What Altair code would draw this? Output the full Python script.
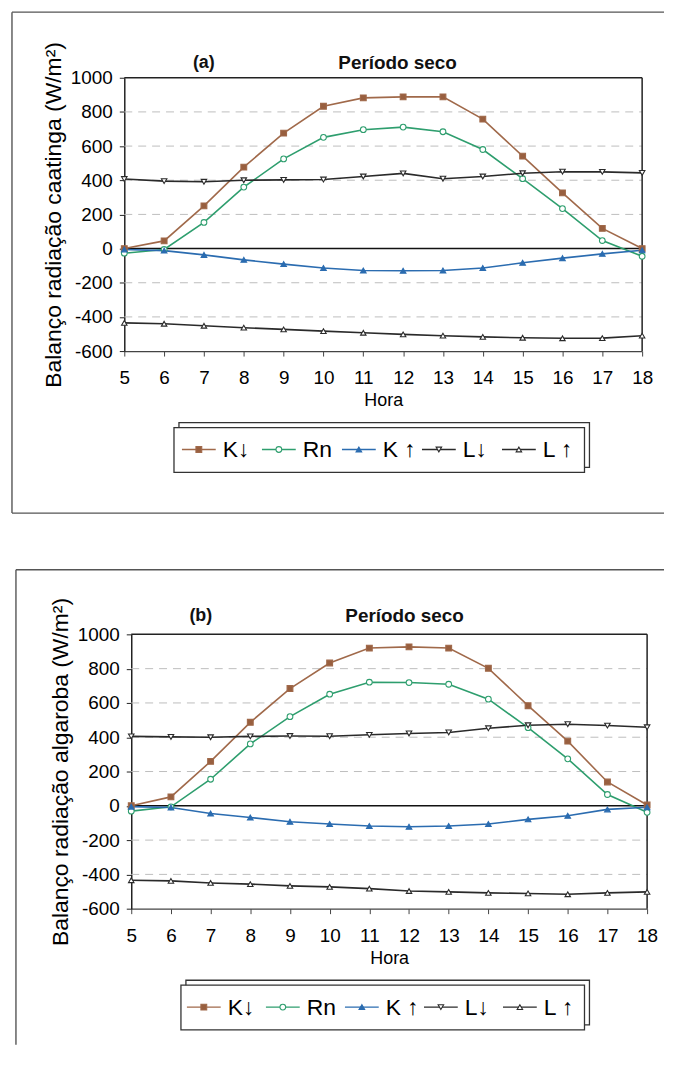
import altair as alt
import pandas as pd

# ---------------- data ----------------
hours = list(range(5, 19))
series = ["K↓", "Rn", "K ↑", "L↓", "L ↑"]

# (a) caatinga
a_kdown = [0, 45, 250, 477, 676, 833, 882, 888, 888, 758, 541, 326, 118, 0]
a_rn = [-27, -5, 153, 360, 525, 651, 696, 711, 684, 580, 409, 234, 47, -45]
a_kup = [-5, -12, -37, -66, -91, -114, -128, -130, -128, -114, -83, -56, -31, -10]
a_ldown = [407, 395, 391, 400, 402, 404, 422, 440, 409, 422, 441, 450, 449, 443]
a_lup = [-435, -440, -452, -463, -473, -483, -493, -502, -510, -517, -522, -525, -524, -510]

# (b) algaroba
b_kdown = [0, 52, 259, 487, 684, 833, 920, 927, 920, 802, 584, 377, 139, 5]
b_rn = [-31, -6, 155, 361, 520, 651, 721, 719, 709, 622, 456, 274, 66, -38]
b_kup = [-5, -10, -45, -68, -93, -106, -118, -122, -118, -106, -79, -58, -21, -8]
b_ldown = [405, 402, 400, 405, 407, 406, 414, 422, 428, 452, 470, 476, 468, 458]
b_lup = [-434, -438, -450, -457, -467, -473, -483, -497, -502, -508, -511, -516, -508, -502]

y_ticks = [-600, -400, -200, 0, 200, 400, 600, 800, 1000]
grid_vals = [-400, -200, 200, 400, 600, 800]

# ---------------- styles ----------------
line_colors = ["#a0694a", "#2e9e6e", "#2b6cb0", "#2a2a2a", "#2a2a2a"]
marker_fill = ["#985f3f", "white", "#2b6cb0", "white", "white"]
marker_shape = ["square", "circle", "triangle-up", "triangle-down", "triangle-up"]
marker_size = [34, 30, 44, 48, 48]
FONT = "Liberation Sans"
W = 660


def long_df(vals_list):
    rows = []
    for s, vals in zip(series, vals_list):
        for h, v in zip(hours, vals):
            rows.append({"hora": h, "valor": v, "serie": s})
    return pd.DataFrame(rows)


stroke_enc = alt.Stroke("serie:N", scale=alt.Scale(domain=series, range=line_colors), legend=None)
fill_enc = alt.Fill("serie:N", scale=alt.Scale(domain=series, range=marker_fill), legend=None)
shape_enc = alt.Shape("serie:N", scale=alt.Scale(domain=series, range=marker_shape), legend=None)
size_enc = alt.Size("serie:N", scale=alt.Scale(domain=series, range=marker_size), legend=None)


def panel(vals_list, letter, ytitle, g):
    H = g["H"]
    df = long_df(vals_list)
    xs = alt.Scale(domain=[5, 18], range=[g["x0"], g["x1"]], nice=False, zero=False)
    ys = alt.Scale(domain=[-600, 1000], range=[g["yb"], g["yt"]], nice=False, zero=False)
    xa = alt.Axis(title="Hora", values=hours, offset=-(H - g["yb"]), grid=False,
                  domainColor="#444", domainWidth=1.2, tickColor="#444", tickSize=5,
                  labelFont=FONT, labelFontSize=19, labelColor="black", labelPadding=13,
                  labelFlush=False, labelExpr="'' + datum.value",
                  titleFont=FONT, titleFontSize=18, titleFontWeight="normal",
                  titleColor="black", titlePadding=4)
    ya = alt.Axis(title=ytitle, values=y_ticks, offset=-g["x0"], grid=False,
                  domainColor="#222", domainWidth=1.5, tickColor="#222", tickSize=5,
                  labelFont=FONT, labelFontSize=19, labelColor="black", labelPadding=7,
                  labelFlush=False, labelExpr="'' + datum.value",
                  titleFont=FONT, titleFontSize=23, titleFontWeight="normal",
                  titleColor="black", titlePadding=5)

    def X(**kw):
        return alt.X(scale=xs, axis=xa, **kw)

    def Y(**kw):
        return alt.Y(scale=ys, axis=ya, **kw)

    grid = alt.Chart(pd.DataFrame({"v": grid_vals})).mark_rule(
        color="#bdbdbd", strokeDash=[8, 6], strokeWidth=1
    ).encode(y=Y(field="v", type="quantitative"), x=X(datum=5), x2=alt.X2(datum=18))

    zero = alt.Chart().mark_rule(color="#111", strokeWidth=1.5).encode(
        y=Y(datum=0), x=X(datum=5), x2=alt.X2(datum=18))
    top = alt.Chart().mark_rule(color="#222", strokeWidth=1.5).encode(
        y=Y(datum=1000), x=X(datum=5), x2=alt.X2(datum=18))
    right = alt.Chart().mark_rule(color="#222", strokeWidth=1.5).encode(
        x=X(datum=18), y=Y(datum=-600), y2=alt.Y2(datum=1000))

    lines = alt.Chart(df).mark_line(strokeWidth=1.6).encode(
        x=X(field="hora", type="quantitative"),
        y=Y(field="valor", type="quantitative"),
        stroke=stroke_enc, detail="serie:N")
    points = alt.Chart(df).mark_point(filled=True, strokeWidth=1.1, opacity=1).encode(
        x=X(field="hora", type="quantitative"),
        y=Y(field="valor", type="quantitative"),
        stroke=stroke_enc, fill=fill_enc, shape=shape_enc, size=size_enc)

    main = alt.layer(grid, zero, top, right, lines, points)

    # legend (drawn with its own index scale)
    leg_df = pd.DataFrame({"idx": list(range(len(series))), "serie": series})
    ls = alt.Scale(domain=[0, 4], range=[g["lx0"], g["lx1"]], nice=False, zero=False)
    lx = alt.X("idx:Q", scale=ls, axis=None)
    ly = g["ly"]
    bx0, bx1, by0, by1 = g["box"]
    box_back = alt.Chart().mark_rect(fill="white", stroke="#333", strokeWidth=1.3).encode(
        x=alt.value(bx0 + 5), x2=alt.value(bx1 + 5), y=alt.value(by0 - 5), y2=alt.value(by1 - 5))
    box_front = alt.Chart().mark_rect(fill="white", stroke="#333", strokeWidth=1.3).encode(
        x=alt.value(bx0), x2=alt.value(bx1), y=alt.value(by0), y2=alt.value(by1))
    leg_line = alt.Chart(leg_df).mark_point(shape="stroke", size=34 * 34, strokeWidth=1.4, opacity=1).encode(
        x=lx, y=alt.value(ly), stroke=stroke_enc)
    leg_mark = alt.Chart(leg_df).mark_point(filled=True, strokeWidth=1.1, opacity=1).encode(
        x=lx, y=alt.value(ly), stroke=stroke_enc, fill=fill_enc, shape=shape_enc, size=size_enc)
    leg_text = alt.Chart(leg_df).mark_text(
        align="left", baseline="middle", dx=24, font=FONT, fontSize=23, color="black"
    ).encode(x=lx, y=alt.value(ly + 1), text="serie:N")
    legend = alt.layer(box_back, box_front, leg_line, leg_mark, leg_text)

    # panel frame and titles
    bl, bt, bb = g["frame"]
    frame_left = alt.Chart().mark_rule(color="#555", strokeWidth=1.4).encode(
        x=alt.value(bl), y=alt.value(bt), y2=alt.value(bb))
    frame_top = alt.Chart().mark_rule(color="#555", strokeWidth=1.4).encode(
        x=alt.value(bl), x2=alt.value(W), y=alt.value(bt))
    decor = [frame_left, frame_top]
    if g.get("frame_bottom"):
        decor.append(alt.Chart().mark_rule(color="#555", strokeWidth=1.4).encode(
            x=alt.value(bl), x2=alt.value(W), y=alt.value(bb)))
    tx, ty = g["title"]
    t1 = alt.Chart().mark_text(font=FONT, fontSize=18, fontWeight="bold", color="#111").encode(
        x=alt.value(g["letter_x"]), y=alt.value(ty), text=alt.value(letter))
    t2 = alt.Chart().mark_text(font=FONT, fontSize=19, fontWeight="bold", color="#111").encode(
        x=alt.value(tx), y=alt.value(ty), text=alt.value("Período seco"))

    return alt.layer(*decor, t1, t2, main, legend).resolve_scale(x="independent").properties(
        width=W, height=H)


geo_a = dict(H=548, x0=117, x1=638, yt=67, yb=342,
             lx0=192, lx1=514, ly=441, box=(167, 580, 419, 464),
             frame=(4, 1, 505), frame_bottom=True, title=(392, 52), letter_x=197)
geo_b = dict(H=492, x0=124, x1=643, yt=79, yb=355,
             lx0=197, lx1=515, ly=454, box=(174, 580, 432, 477),
             frame=(8, 14, 492), frame_bottom=False, title=(399, 61), letter_x=194)

pa = panel([a_kdown, a_rn, a_kup, a_ldown, a_lup], "(a)",
           "Balanço radiação caatinga (W/m²)", geo_a)
pb = panel([b_kdown, b_rn, b_kup, b_ldown, b_lup], "(b)",
           "Balanço radiação algaroba (W/m²)", geo_b)

chart = alt.vconcat(pa, pb, spacing=0).properties(
    padding={"left": 0, "top": 0, "right": 0, "bottom": 0}
).configure(background="white").configure_view(stroke="transparent", strokeWidth=0)

chart.save("out.html", embed_options={"renderer": "svg", "actions": False})
